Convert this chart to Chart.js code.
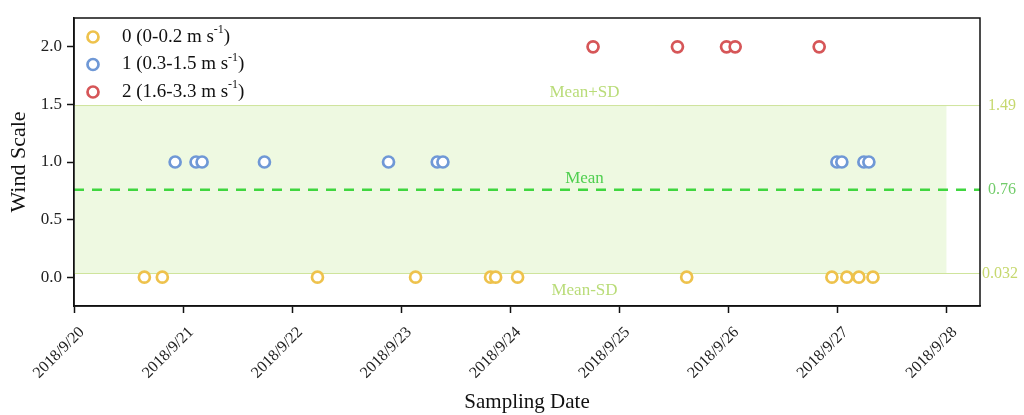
<!DOCTYPE html>
<html>
<head>
<meta charset="utf-8">
<script src="https://cdn.jsdelivr.net/npm/chart.js@4/dist/chart.umd.min.js"></script>
<style>html,body{margin:0;padding:0;background:#fff}</style>
</head>
<body>
<canvas id="windChart" width="1024" height="415"></canvas>
<script>
// eje x: dias desde el inicio
const startDate = "2018-09-20T00:00";
const endDate = "2018-09-28T07:20";
const shadeEndDate = "2018-09-28T00:00";
const xTickLabels = ["2018/9/20", "2018/9/21", "2018/9/22", "2018/9/23", "2018/9/24",
    "2018/9/25", "2018/9/26", "2018/9/27", "2018/9/28"];
const yTicks = [0, 0.5, 1, 1.5, 2];

// series (escala de viento)
const seriesLabels = ["0 (0-0.2 m s⁻¹)", "1 (0.3-1.5 m s⁻¹)", "2 (1.6-3.3 m s⁻¹)"];
const seriesValues = [0, 1, 2];
const seriesColors = ["#eec24c", "#6f98d6", "#d65658"];
const scale0Times = ["2018-09-20T15:29", "2018-09-20T19:26", "2018-09-22T05:34", "2018-09-23T03:09",
    "2018-09-23T19:39", "2018-09-23T20:46", "2018-09-24T01:36", "2018-09-25T14:48",
    "2018-09-26T22:45", "2018-09-27T02:02", "2018-09-27T04:41", "2018-09-27T07:47"];
const scale1Times = ["2018-09-20T22:15", "2018-09-21T02:51", "2018-09-21T04:11", "2018-09-21T17:54",
    "2018-09-22T21:12", "2018-09-23T07:55", "2018-09-23T09:10", "2018-09-26T23:51",
    "2018-09-27T00:56", "2018-09-27T05:47", "2018-09-27T06:53"];
const scale2Times = ["2018-09-24T18:12", "2018-09-25T12:46", "2018-09-25T23:34", "2018-09-26T01:28",
    "2018-09-26T19:57"];

// lineas de referencia
const refNames = ["Mean+SD", "Mean", "Mean-SD"];
const refValues = [1.49, 0.76, 0.032];
const refLabels = ["1.49", "0.76", "0.032"];

const dayOf = s => (Date.parse(s) - Date.parse(startDate)) / 864e5;
const xMax = dayOf(endDate);
const shadeEnd = dayOf(shadeEndDate);
const xTickDays = xTickLabels.map(dayOf);

const serif = "'Liberation Serif', 'Times New Roman', serif";

const scatterSets = [scale0Times, scale1Times, scale2Times].map((times, i) => ({
    label: seriesLabels[i],
    data: times.map(t => ({ x: dayOf(t), y: seriesValues[i] })),
    showLine: false,
    pointRadius: 5.5,
    pointHoverRadius: 5.5,
    pointBorderWidth: 2.7,
    pointBorderColor: seriesColors[i],
    pointBackgroundColor: "#ffffff",
    borderColor: seriesColors[i],
    order: 1
}));

const refLine = (y, color, width, dash, x1) => ({
    label: "ref",
    data: [{ x: 0, y: y }, { x: x1, y: y }],
    showLine: true,
    borderColor: color,
    borderWidth: width,
    borderDash: dash,
    pointRadius: 0,
    fill: false,
    order: 5
});

const shadeSet = {
    label: "ref",
    data: [{ x: 0, y: refValues[0] }, { x: shadeEnd, y: refValues[0] }],
    showLine: true,
    borderWidth: 0,
    pointRadius: 0,
    backgroundColor: "#eef9e1",
    fill: { value: refValues[2] },
    order: 10
};

const decorPlugin = {
    id: "decor",
    afterDraw(chart) {
        const { ctx, chartArea: a, scales: { x, y } } = chart;
        ctx.save();
        // marco
        ctx.strokeStyle = "#111";
        ctx.lineWidth = 1.5;
        ctx.strokeRect(a.left, a.top, a.right - a.left, a.bottom - a.top);

        // etiquetas de las lineas
        const labelX = x.getPixelForValue(4.68);
        ctx.font = "17px " + serif;
        ctx.textAlign = "center";
        ctx.fillStyle = "#b9dc78";
        ctx.textBaseline = "bottom";
        ctx.fillText(refNames[0], labelX, y.getPixelForValue(refValues[0]) - 5);
        ctx.fillStyle = "#4fcf4f";
        ctx.fillText(refNames[1], labelX, y.getPixelForValue(refValues[1]) - 3);
        ctx.fillStyle = "#b9dc78";
        ctx.textBaseline = "top";
        ctx.fillText(refNames[2], labelX, y.getPixelForValue(refValues[2]) + 9);

        // valores a la derecha
        ctx.font = "16px " + serif;
        ctx.textAlign = "left";
        ctx.textBaseline = "middle";
        const rightColors = ["#c6d86e", "#72cc6a", "#c6d86e"];
        refLabels.forEach((t, i) => {
            ctx.fillStyle = rightColors[i];
            ctx.fillText(t, a.right + (i === 2 ? 2 : 8), y.getPixelForValue(refValues[i]));
        });

        // leyenda
        const lx = a.left + 19, ly0 = a.top + 19, step = 27.5;
        seriesLabels.forEach((lab, i) => {
            const ly = ly0 + i * step;
            ctx.beginPath();
            ctx.arc(lx, ly, 5.5, 0, Math.PI * 2);
            ctx.fillStyle = "#fff";
            ctx.fill();
            ctx.lineWidth = 2.7;
            ctx.strokeStyle = seriesColors[i];
            ctx.stroke();
            const parts = lab.split("⁻¹");
            let tx = lx + 29;
            ctx.fillStyle = "#111";
            ctx.textAlign = "left";
            ctx.textBaseline = "middle";
            ctx.font = "19px " + serif;
            ctx.fillText(parts[0], tx, ly);
            tx += ctx.measureText(parts[0]).width;
            ctx.font = "12px " + serif;
            ctx.fillText("-1", tx, ly - 7);
            tx += ctx.measureText("-1").width;
            ctx.font = "19px " + serif;
            ctx.fillText(parts[1], tx, ly);
        });
        ctx.restore();
    }
};

const ctx = document.getElementById("windChart").getContext("2d");
const windChart = new Chart(ctx, {
    type: "scatter",
    data: {
        datasets: [
            ...scatterSets,
            refLine(refValues[0], "#cfe49c", 1, [], xMax),
            refLine(refValues[2], "#cfe49c", 1, [], xMax),
            refLine(refValues[1], "#3fd63f", 2.5, [10, 8], xMax),
            shadeSet
        ]
    },
    options: {
        responsive: false,
        animation: false,
        devicePixelRatio: 1,
        layout: { padding: { top: 18, right: 44, left: 0, bottom: 0 } },
        plugins: {
            legend: { display: false },
            tooltip: { enabled: false }
        },
        scales: {
            x: {
                type: "linear",
                min: 0,
                max: xMax,
                afterFit: s => { s.height = 109; },
                afterBuildTicks: s => { s.ticks = xTickDays.map(v => ({ value: v })); },
                grid: { drawOnChartArea: false, drawTicks: true, tickLength: 7, tickColor: "#111", tickWidth: 1.5 },
                border: { color: "#111", width: 1.5 },
                ticks: {
                    minRotation: 45,
                    maxRotation: 45,
                    padding: 10,
                    labelOffset: 8,
                    color: "#222",
                    font: { family: serif, size: 16 },
                    callback: (v, i) => xTickLabels[i]
                },
                title: {
                    display: true,
                    text: "Sampling Date",
                    color: "#111",
                    font: { family: serif, size: 21 },
                    padding: { top: 0, bottom: 0 }
                }
            },
            y: {
                min: -0.25,
                max: 2.25,
                afterFit: s => { s.width = 74; },
                afterBuildTicks: s => { s.ticks = yTicks.map(v => ({ value: v })); },
                grid: { drawOnChartArea: false, drawTicks: true, tickLength: 7, tickColor: "#111", tickWidth: 1.5 },
                border: { color: "#111", width: 1.5 },
                ticks: {
                    padding: 5,
                    color: "#222",
                    font: { family: serif, size: 17 },
                    callback: v => v.toFixed(1)
                },
                title: {
                    display: true,
                    text: "Wind Scale",
                    color: "#111",
                    font: { family: serif, size: 22 },
                    padding: { top: 6, bottom: 0 }
                }
            }
        }
    },
    plugins: [decorPlugin]
});
</script>
</body>
</html>
